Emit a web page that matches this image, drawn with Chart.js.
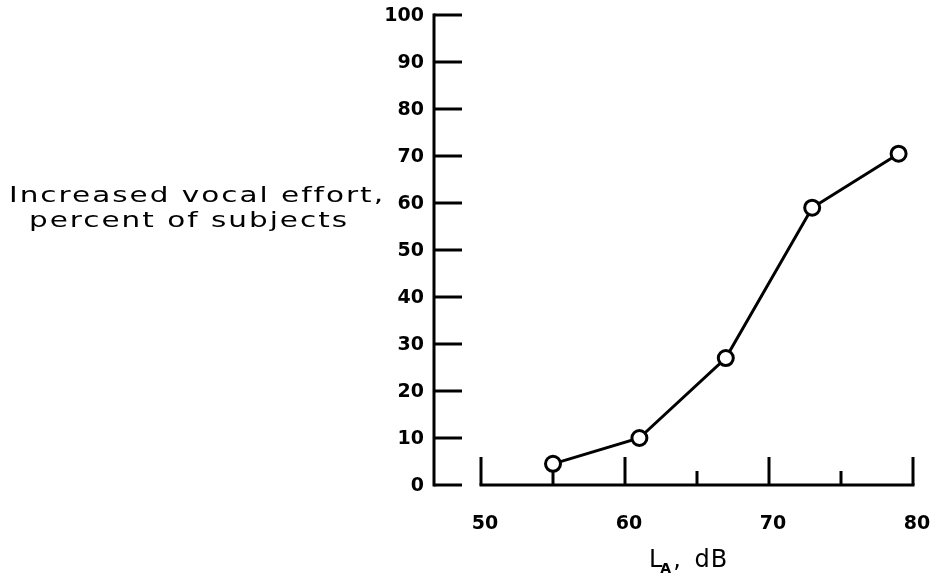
<!DOCTYPE html>
<html>
<head>
<meta charset="utf-8">
<title>Increased vocal effort vs. A-weighted level</title>
<script src="https://cdn.jsdelivr.net/npm/chart.js@4.4.1/dist/chart.umd.min.js"></script>
<style>
  html, body { margin: 0; padding: 0; background: #ffffff; }
  #wrap { width: 936px; height: 585px; position: relative; }
</style>
</head>
<body>
<div id="wrap"><canvas id="chart" width="936" height="585"></canvas></div>
<script>
// A-weighted sound level, dB
const soundLevels = [55, 61, 67, 73, 79];
// Share of subjects raising their voice, percent
const effortPercent = [4.5, 10, 27, 59, 70.5];

// Axis tick values
const xMajorTicks = [50, 60, 70, 80];
const xMinorTicks = [55, 65, 75];
const yTicks = [0, 10, 20, 30, 40, 50, 60, 70, 80, 90, 100];

// Axis titles
const yTitleLines = ['Increased vocal effort,', 'percent of subjects'];
const xTitleParts = { main: 'L', sub: 'A', rest: ', dB' };

const INK = '#000000';
const LABEL_FONT = 'bold 19px "DejaVu Sans", sans-serif';
const TITLE_FONT = '22px "DejaVu Sans", sans-serif';

// Draws the detached axes, their inward ticks, tick labels and titles
const axesPlugin = {
  id: 'detachedAxes',
  beforeDatasetsDraw(chart) {
    const ctx = chart.ctx;
    const xs = chart.scales.x;
    const ys = chart.scales.y;
    const y0 = ys.getPixelForValue(0);
    const yTop = ys.getPixelForValue(100);
    const yAxisX = chart.chartArea.left - 47;

    ctx.save();
    ctx.strokeStyle = INK;
    ctx.fillStyle = INK;
    ctx.lineWidth = 3;
    ctx.lineCap = 'butt';

    // vertical axis with ticks pointing right
    ctx.beginPath();
    ctx.moveTo(yAxisX, yTop - 1.5);
    ctx.lineTo(yAxisX, y0 + 1.5);
    ctx.stroke();
    ctx.font = LABEL_FONT;
    ctx.textAlign = 'right';
    ctx.textBaseline = 'middle';
    yTicks.forEach(v => {
      const py = ys.getPixelForValue(v);
      ctx.beginPath();
      ctx.moveTo(yAxisX, py);
      ctx.lineTo(yAxisX + 28, py);
      ctx.stroke();
      ctx.fillText(String(v), yAxisX - 10, py + 1);
    });

    // horizontal axis with ticks pointing up
    const x50 = xs.getPixelForValue(50);
    const x80 = xs.getPixelForValue(80);
    ctx.beginPath();
    ctx.moveTo(x50 - 1.5, y0);
    ctx.lineTo(x80 + 1.5, y0);
    ctx.stroke();
    xMajorTicks.forEach(v => {
      const px = xs.getPixelForValue(v);
      ctx.beginPath();
      ctx.moveTo(px, y0);
      ctx.lineTo(px, y0 - 28);
      ctx.stroke();
    });
    xMinorTicks.forEach(v => {
      const px = xs.getPixelForValue(v);
      ctx.beginPath();
      ctx.moveTo(px, y0);
      ctx.lineTo(px, y0 - 14);
      ctx.stroke();
    });
    ctx.textAlign = 'center';
    ctx.textBaseline = 'middle';
    xMajorTicks.forEach(v => {
      ctx.fillText(String(v), xs.getPixelForValue(v) + 4, y0 + 39);
    });

    // vertical-axis title, two lines sharing one horizontal stretch
    ctx.font = TITLE_FONT;
    ctx.textAlign = 'center';
    ctx.textBaseline = 'alphabetic';
    if ('letterSpacing' in ctx) ctx.letterSpacing = '1.5px';
    const stretch = 376 / ctx.measureText(yTitleLines[0]).width;
    const centres = [197, 189];
    const baselines = [202, 227];
    yTitleLines.forEach((t, i) => {
      ctx.save();
      ctx.translate(centres[i], baselines[i]);
      ctx.scale(stretch, 1);
      ctx.fillText(t, 0, 0);
      ctx.restore();
    });
    if ('letterSpacing' in ctx) ctx.letterSpacing = '0px';

    // horizontal-axis title: L with subscript A, then ", dB"
    const tx = 649, ty = 567;
    ctx.textAlign = 'left';
    ctx.font = '24px "DejaVu Sans", sans-serif';
    ctx.fillText(xTitleParts.main, tx, ty);
    const wL = ctx.measureText(xTitleParts.main).width;
    ctx.font = 'bold 14px "DejaVu Sans", sans-serif';
    ctx.fillText(xTitleParts.sub, tx + wL - 2, ty + 6);
    const wA = ctx.measureText(xTitleParts.sub).width;
    ctx.font = '24px "DejaVu Sans", sans-serif';
    ctx.fillText(', ', tx + wL + wA, ty);
    const wC = ctx.measureText(', ').width;
    if ('letterSpacing' in ctx) ctx.letterSpacing = '1px';
    ctx.fillText(xTitleParts.rest.slice(2), tx + wL + wA + wC + 6, ty);
    if ('letterSpacing' in ctx) ctx.letterSpacing = '0px';

    ctx.restore();
  }
};

new Chart(document.getElementById('chart'), {
  type: 'scatter',
  data: {
    datasets: [{
      data: soundLevels.map((x, i) => ({ x, y: effortPercent[i] })),
      showLine: true,
      borderColor: INK,
      borderWidth: 3,
      pointRadius: 7.5,
      pointHoverRadius: 7.5,
      pointBorderWidth: 3,
      pointBackgroundColor: '#ffffff',
      pointBorderColor: INK,
      tension: 0
    }]
  },
  options: {
    responsive: false,
    animation: false,
    devicePixelRatio: 1,
    layout: { padding: { left: 481, right: 23, top: 15, bottom: 100 } },
    plugins: { legend: { display: false }, tooltip: { enabled: false } },
    scales: {
      x: { type: 'linear', min: 50, max: 80, display: false },
      y: { type: 'linear', min: 0, max: 100, display: false }
    }
  },
  plugins: [axesPlugin]
});
</script>
</body>
</html>
